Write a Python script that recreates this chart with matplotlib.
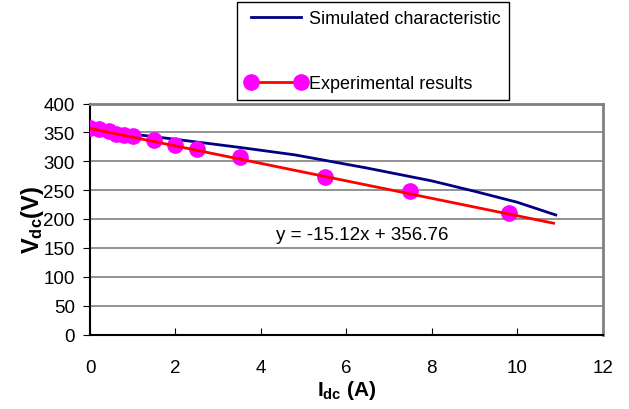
import matplotlib
matplotlib.use("Agg")
import matplotlib.pyplot as plt
from matplotlib.lines import Line2D
import numpy as np

plt.rcParams['font.family'] = ['Liberation Sans', 'DejaVu Sans']
plt.rcParams['mathtext.fontset'] = 'custom'
plt.rcParams['mathtext.rm'] = 'Liberation Sans'
plt.rcParams['mathtext.bf'] = 'Liberation Sans:bold'

# simulated Vdc-Idc characteristic
sim_i = [0, 1, 2, 3.5, 4.8, 6.5, 8.0, 9.0, 10.0, 10.9]
sim_v = [355, 347, 338, 324, 311, 288, 266, 248, 229, 207]

# measured points
exp_i = [0, 0.2, 0.45, 0.6, 0.8, 1.0, 1.5, 2.0, 2.5, 3.5, 5.5, 7.5, 9.8]
exp_v = [357, 355, 352, 347, 345, 344, 337, 328, 321, 307, 272, 249, 210]

# linear trendline of the measurements
slope = -15.12
intercept = 356.76
trend_end = 10.85

fig = plt.figure(figsize=(6.29, 4.10), dpi=100)
ax = fig.add_axes([90/629, 1-335.5/410, (602.7-90)/629, (335.5-104.5)/410])

ax.plot(sim_i, sim_v, color='#000080', lw=2, zorder=3)
ax.plot(exp_i, exp_v, ls='none', marker='o', ms=11, color='#ff00ff', zorder=4)
tx = np.array([0, trend_end])
ax.plot(tx, slope*tx + intercept, color='red', lw=2, zorder=5)

ax.text(4.35, 173, 'y = -15.12x + 356.76', fontsize=13.5, va='center', ha='left')

ax.set_xlim(0, 12)
ax.set_ylim(0, 400)
ax.set_xticks(range(0, 13, 2))
ax.set_yticks(range(0, 401, 50))
ax.yaxis.grid(True, color='#808080', lw=1.2)
ax.set_axisbelow(True)
ax.tick_params(axis='x', direction='in', length=5, pad=18, labelsize=13.5)
ax.tick_params(axis='y', direction='out', length=5, pad=6, labelsize=13.5)
for s in ['top', 'right']:
    ax.spines[s].set_color('#808080')
    ax.spines[s].set_linewidth(2)
for s in ['left', 'bottom']:
    ax.spines[s].set_color('black')
    ax.spines[s].set_linewidth(1.5)

ax.set_xlabel(r'$\mathbf{I_{dc}}$ (A)', fontsize=15, fontweight='bold', labelpad=1)
ax.set_ylabel(r'$\mathbf{V_{dc}(V)}$', fontsize=17, labelpad=-2)

handles = [
    Line2D([], [], color='#000080', lw=2),
    Line2D([], [], color='red', lw=2, marker='o', ms=11,
           markerfacecolor='#ff00ff', markeredgecolor='#ff00ff'),
]
leg = fig.legend(handles, ['Simulated characteristic', 'Experimental results'],
                 loc='upper left', bbox_to_anchor=(237/629, 1-3/410),
                 fontsize=13, frameon=True, fancybox=False, framealpha=1,
                 edgecolor='black', labelspacing=2.65, handlelength=3.4,
                 handletextpad=0.15, borderpad=0.45, borderaxespad=0, numpoints=2)
leg.get_frame().set_linewidth(1)

fig.savefig('out.png', dpi=100)
